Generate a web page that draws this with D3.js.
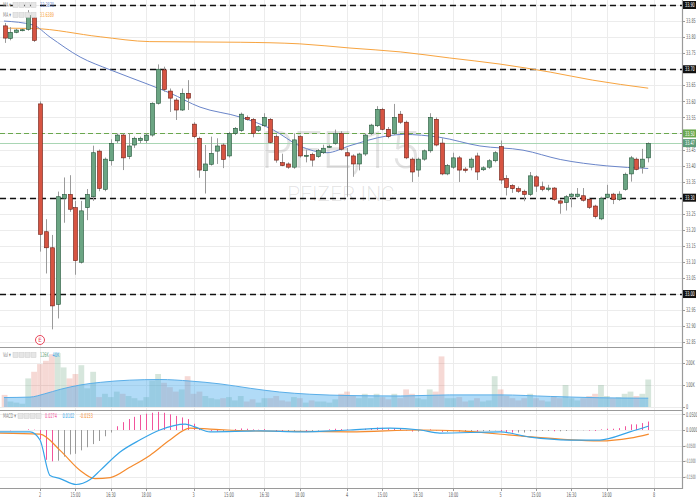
<!DOCTYPE html>
<html><head><meta charset="utf-8">
<script src="https://cdn.jsdelivr.net/npm/d3@7"></script>
<style>
html,body{margin:0;padding:0;background:#fff;}
svg{display:block;font-family:"DejaVu Sans Condensed","Liberation Sans",sans-serif;}
</style></head><body>
<svg id="c" width="697" height="498"></svg>
<script>
// ---------- DATA ----------
// bar index: day "2" starts at index 0; six bars of previous day before it
const firstIndex = -6;
const opens = [
 33.835,33.796,33.815,33.822,33.824,33.860,
 33.592,33.194,33.144,32.968,33.298,33.310,33.269,33.099,33.269,33.303,33.445,33.326,33.415,33.477,33.495,33.428,33.464,33.478,33.478,33.495,33.594,33.698,33.632,33.604,33.573,33.625,
 33.529,33.485,33.384,33.404,33.445,33.464,33.430,33.500,33.509,33.550,33.544,33.509,33.524,33.544,33.490,33.409,33.405,33.395,33.490,33.430,33.435,33.428,33.440,33.458,33.469,33.500,
 33.440,33.430,33.405,33.436,33.500,33.524,33.575,33.513,33.500,33.560,33.535,33.420,33.386,33.420,33.446,33.544,33.470,33.374,33.395,33.424,33.389,33.395,33.430,33.387,33.395,33.415,
 33.459,33.360,33.338,33.328,33.320,33.310,33.365,33.334,33.326,33.330,33.290,33.285,33.304,33.304,33.306,33.295,33.274,33.234,33.301,33.311,33.294,33.326,33.374,33.420,33.395,33.424];
const highs = [
 33.844,33.831,33.826,33.826,33.884,33.870,
 33.600,33.233,33.184,33.319,33.363,33.370,33.290,33.290,33.327,33.462,33.450,33.425,33.482,33.500,33.500,33.500,33.490,33.490,33.500,33.597,33.715,33.708,33.640,33.610,33.640,33.666,
 33.535,33.490,33.464,33.490,33.485,33.470,33.505,33.520,33.565,33.556,33.548,33.525,33.563,33.548,33.497,33.437,33.410,33.500,33.495,33.450,33.440,33.452,33.465,33.465,33.512,33.507,
 33.455,33.435,33.440,33.500,33.530,33.585,33.580,33.520,33.592,33.570,33.540,33.425,33.425,33.450,33.563,33.550,33.485,33.405,33.440,33.430,33.395,33.425,33.440,33.398,33.420,33.445,
 33.478,33.370,33.342,33.335,33.325,33.380,33.370,33.350,33.340,33.333,33.295,33.308,33.315,33.330,33.330,33.300,33.278,33.303,33.340,33.315,33.320,33.378,33.430,33.425,33.452,33.472];
const lows = [
 33.782,33.790,33.812,33.818,33.820,33.785,
 33.132,33.064,32.890,32.924,33.222,33.256,33.060,33.095,33.230,33.290,33.320,33.320,33.400,33.470,33.386,33.420,33.455,33.470,33.470,33.490,33.590,33.630,33.567,33.542,33.570,33.573,
 33.485,33.362,33.313,33.400,33.405,33.392,33.425,33.495,33.505,33.540,33.488,33.505,33.520,33.469,33.409,33.398,33.390,33.390,33.425,33.410,33.397,33.424,33.436,33.455,33.465,33.447,
 33.303,33.365,33.385,33.430,33.495,33.520,33.510,33.485,33.495,33.530,33.420,33.349,33.365,33.415,33.440,33.460,33.370,33.370,33.390,33.349,33.378,33.385,33.355,33.383,33.390,33.410,
 33.343,33.307,33.315,33.315,33.289,33.305,33.318,33.320,33.320,33.290,33.250,33.260,33.270,33.300,33.288,33.265,33.235,33.230,33.298,33.280,33.290,33.322,33.350,33.385,33.375,33.410];
const closes = [
 33.797,33.815,33.822,33.823,33.867,33.790,
 33.186,33.144,32.963,33.303,33.310,33.264,33.104,33.259,33.310,33.440,33.329,33.420,33.469,33.495,33.424,33.461,33.485,33.485,33.495,33.594,33.700,33.637,33.610,33.573,33.625,33.610,
 33.490,33.386,33.405,33.438,33.461,33.419,33.500,33.516,33.560,33.544,33.500,33.521,33.550,33.472,33.417,33.400,33.395,33.480,33.430,33.432,33.417,33.447,33.454,33.460,33.500,33.451,
 33.430,33.405,33.436,33.495,33.526,33.575,33.513,33.490,33.550,33.535,33.424,33.380,33.420,33.446,33.550,33.464,33.374,33.400,33.424,33.386,33.385,33.420,33.380,33.393,33.415,33.440,
 33.355,33.332,33.328,33.320,33.310,33.368,33.336,33.326,33.330,33.295,33.283,33.303,33.311,33.311,33.292,33.270,33.241,33.298,33.311,33.294,33.311,33.373,33.424,33.388,33.420,33.469];
// volume in thousands
const volumes = [
 55,25,20,15,130,160,
 195,210,240,245,180,130,150,190,85,160,45,60,45,70,60,50,40,30,45,120,150,110,90,70,80,140,
 60,70,50,40,35,40,45,30,50,25,35,20,40,40,50,30,25,45,40,20,30,25,25,20,35,60,
 70,50,40,60,40,60,45,35,60,40,80,60,40,35,80,70,230,40,40,45,25,30,40,25,30,140,
 80,50,40,30,40,60,40,30,25,50,40,100,40,30,40,50,60,100,50,40,45,60,70,50,60,125];
// volume moving average [barIndex, thousands]
const volMA = [[-6.1,43],[-1.7,45],[0.8,60],[3.4,80],[6.8,100],[10.2,112],[15.2,122],[20.3,125],[25.4,118],[30.5,105],[35.6,85],[40.6,68],[45.7,58],[52.5,52],[61,50],[69.4,55],[77.9,55],[86.4,48],[94.8,42],[103,40]];
// MACD histogram per bar
const macdHist = [
 0.000,-0.001,0.000,0.000,0.002,0.001,
 -0.030,-0.095,-0.100,-0.098,-0.085,-0.078,-0.076,-0.065,-0.055,-0.045,-0.035,-0.020,-0.008,0.012,0.025,0.035,0.042,0.048,0.052,0.055,0.058,0.055,0.050,0.045,0.040,0.035,
 0.020,0.005,0.000,-0.003,-0.005,-0.004,0.000,0.003,0.005,0.004,0.002,0.001,0.003,0.000,-0.004,-0.006,-0.006,-0.003,-0.002,-0.003,-0.003,-0.002,0.000,0.002,0.004,0.003,
 0.002,0.000,0.001,0.004,0.006,0.008,0.007,0.005,0.006,0.004,-0.002,-0.005,-0.005,-0.003,0.002,-0.002,-0.006,-0.006,-0.004,-0.005,-0.005,-0.004,-0.005,-0.004,-0.003,-0.001,
 -0.005,-0.007,-0.008,-0.008,-0.008,-0.004,-0.004,-0.003,-0.003,-0.004,-0.004,-0.003,-0.002,-0.001,-0.001,-0.002,-0.003,0.002,0.004,0.004,0.006,0.012,0.018,0.018,0.022,0.027];
// MACD line and signal [barIndex, value]
const macdLine = [[-6.8,-0.006],[-1.7,-0.006],[0,-0.032],[1.7,-0.145],[3.4,-0.155],[6.1,-0.174],[8.5,-0.158],[10.2,-0.129],[13.5,-0.071],[16.9,-0.032],[20.3,0],[24.6,0.019],[26.2,0.010],[28.8,-0.006],[37.3,-0.003],[44,-0.006],[52.5,0],[59.3,0.006],[64.4,0],[67.7,-0.010],[77.9,-0.006],[83,-0.023],[89.8,-0.032],[94.8,-0.032],[99.9,-0.006],[103.1,0.013]];
const macdSignal = [[-6.8,-0.010],[0,-0.013],[3.4,-0.065],[6.8,-0.129],[9.3,-0.155],[11.9,-0.152],[15.2,-0.119],[18.6,-0.081],[22,-0.032],[25.4,0.006],[28.8,0.003],[35.6,-0.003],[52.5,-0.006],[64.4,0],[71.1,-0.003],[81.3,-0.019],[88.1,-0.029],[94.8,-0.035],[99.9,-0.026],[103.1,-0.013]];
// price moving averages [barIndex, price]
const maShort = [[-6.1,33.850],[-1.2,33.838],[1.7,33.800],[6.8,33.738],[11.9,33.698],[18.6,33.651],[22,33.626],[27.1,33.582],[33.9,33.551],[39.5,33.511],[44,33.461],[48.6,33.440],[52.5,33.462],[58.7,33.492],[61.5,33.497],[67.7,33.488],[74.5,33.461],[81.8,33.448],[88.1,33.419],[96,33.399],[103,33.391]];
const maLong = [[-6.1,33.828],[-1.2,33.827],[10.2,33.801],[18.6,33.786],[33.9,33.784],[44,33.779],[52.5,33.766],[61,33.754],[69.4,33.735],[77.9,33.716],[86.4,33.691],[93.6,33.666],[103,33.641]];
// x-axis labels [barIndex, text]
const timeLabels = [[0,"2"],[6,"15:00"],[12,"16:30"],[18,"18:00"],[26,"3"],[32,"15:00"],[38,"16:30"],[44,"18:00"],[52,"4"],[58,"15:00"],[64,"16:30"],[70,"18:00"],[78,"5"],[84,"15:00"],[90,"16:30"],[96,"18:00"],[104,"8"]];
const priceTicks = [33.90,33.85,33.80,33.75,33.70,33.65,33.60,33.55,33.50,33.45,33.40,33.35,33.30,33.25,33.20,33.15,33.10,33.05,33.00,32.95,32.90,32.85];
const levelLines = [33.90,33.70,33.30,33.00];
const resistLevel = 33.50;
const lastPrice = 33.47;
const volTicks = [[0,"0"],[100,"100K"],[200,"200K"]];
const macdTicks = [0.05,0,-0.05,-0.10,-0.15];
const earningsIndex = 0;
const legendMA = ["33.3870","33.6389"];
const legendVol = ["126K","40K"];
const legendMACD = ["0.0274","0.0102","-0.0153"];

// ---------- LAYOUT ----------
const W = 697, axisX = 682;
const svg = d3.select("#c");
const x = d3.scaleLinear().domain([0,104]).range([40, 40+104*5.905]);
const y = d3.scaleLinear().domain([33.90,32.85]).range([5,342.2]);
const yv = d3.scaleLinear().domain([0,200]).range([407,363]);
const ym = d3.scaleLinear().domain([0,-0.15]).range([430,477]);
const bars = opens.map((o,i)=>({i:i+firstIndex,o,h:highs[i],l:lows[i],c:closes[i],v:volumes[i],m:macdHist[i],pm:i>0?macdHist[i-1]:0}));

const grid = "#ececec", axisCol = "#9a9a9a", txt = "#666";
// small condensed labels: squeezed horizontally with a transform
function sq(parent,xx,yy,str,anchor,fill,size,sx){
  return parent.append("text").attr("transform",`translate(${xx},${yy}) scale(${sx||0.58},1)`)
    .attr("text-anchor",anchor||"start").attr("font-size",size||6.5).attr("fill",fill||txt).text(str);
}

// grid lines
const gridG = svg.append("g");
gridG.selectAll(".vg").data(timeLabels).join("line")
  .attr("x1",d=>Math.round(x(d[0]))+0.5).attr("x2",d=>Math.round(x(d[0]))+0.5).attr("y1",0).attr("y2",488)
  .attr("stroke",grid).attr("stroke-width",1);
gridG.selectAll(".hg").data(priceTicks).join("line")
  .attr("x1",0).attr("x2",axisX).attr("y1",d=>Math.round(y(d))+0.5).attr("y2",d=>Math.round(y(d))+0.5)
  .attr("stroke",grid);
gridG.selectAll(".hv").data(volTicks).join("line")
  .attr("x1",0).attr("x2",axisX).attr("y1",d=>Math.round(yv(d[0]))+0.5).attr("y2",d=>Math.round(yv(d[0]))+0.5).attr("stroke",grid);
gridG.selectAll(".hm").data(macdTicks).join("line")
  .attr("x1",0).attr("x2",axisX).attr("y1",d=>Math.round(ym(d))+0.5).attr("y2",d=>Math.round(ym(d))+0.5).attr("stroke",grid);

// watermark
svg.append("text").attr("x",340).attr("y",168).attr("text-anchor","middle")
  .attr("font-family","Roboto, 'Open Sans', sans-serif").attr("font-weight",300)
  .attr("font-size",52).attr("fill","#000").attr("fill-opacity",0.11).text("PFE,15");
svg.append("text").attr("x",341).attr("y",201).attr("text-anchor","middle")
  .attr("font-family","Roboto, 'Open Sans', sans-serif").attr("font-weight",300)
  .attr("font-size",21).attr("fill","#000").attr("fill-opacity",0.11).text("PFIZER INC");

// level lines
svg.selectAll(".lvl").data(levelLines).join("line")
  .attr("x1",0).attr("x2",axisX).attr("y1",d=>Math.round(y(d))+0.5).attr("y2",d=>Math.round(y(d))+0.5)
  .attr("stroke","#111").attr("stroke-width",1.4).attr("stroke-dasharray","6,4");
svg.append("line").attr("x1",0).attr("x2",axisX).attr("y1",Math.round(y(resistLevel))+0.5).attr("y2",Math.round(y(resistLevel))+0.5)
  .attr("stroke","#6aa84f").attr("stroke-width",1.2).attr("stroke-dasharray","5,3");
svg.append("line").attr("x1",0).attr("x2",axisX).attr("y1",Math.round(y(lastPrice))+0.5).attr("y2",Math.round(y(lastPrice))+0.5)
  .attr("stroke","#a9d6b4").attr("stroke-width",1);

// MAs
const lineIdx = d3.line().x(d=>x(d[0])).y(d=>y(d[1])).curve(d3.curveMonotoneX);
svg.append("path").attr("d",lineIdx(maLong)).attr("fill","none").attr("stroke","#f7a440").attr("stroke-width",1);
svg.append("path").attr("d",lineIdx(maShort)).attr("fill","none").attr("stroke","#6a85c9").attr("stroke-width",1);

// candles
const green="#6ba583", greenS="#225437", red="#d75442", redS="#6b1d13";
const cg = svg.append("g");
cg.selectAll(".wick").data(bars).join("line")
  .attr("x1",d=>Math.round(x(d.i))+0.5).attr("x2",d=>Math.round(x(d.i))+0.5)
  .attr("y1",d=>y(d.h)).attr("y2",d=>y(d.l)).attr("stroke","#9a9a9a").attr("stroke-width",1);
cg.selectAll(".body").data(bars).join("rect")
  .attr("x",d=>Math.round(x(d.i))-1.5).attr("width",4)
  .attr("y",d=>y(Math.max(d.o,d.c))).attr("height",d=>Math.max(1,y(Math.min(d.o,d.c))-y(Math.max(d.o,d.c))))
  .attr("fill",d=>d.c>=d.o?green:red).attr("stroke",d=>d.c>=d.o?greenS:redS).attr("stroke-width",0.6);

// earnings marker
svg.append("circle").attr("cx",x(earningsIndex)).attr("cy",340).attr("r",4.5).attr("fill","#fff").attr("stroke","#e8455a").attr("stroke-width",1);
svg.append("text").attr("x",x(earningsIndex)).attr("y",342.3).attr("text-anchor","middle").attr("font-size",6).attr("fill","#e8455a").text("E");

// panel separators
[347.5,410.5,488.5].forEach(v=>svg.append("line").attr("x1",0).attr("x2",axisX).attr("y1",v).attr("y2",v).attr("stroke",axisCol).attr("stroke-width",1.2));

// volume
const vg = svg.append("g");
vg.selectAll("rect").data(bars).join("rect")
  .attr("x",d=>x(d.i)-2.9).attr("width",5.8)
  .attr("y",d=>yv(d.v)).attr("height",d=>yv(0)-yv(d.v))
  .attr("fill",d=>d.c>=d.o?"rgba(107,165,131,0.28)":"rgba(215,84,66,0.22)");
const areaV = d3.area().x(d=>x(d[0])).y0(yv(0)).y1(d=>yv(d[1])).curve(d3.curveMonotoneX);
vg.append("path").attr("d",areaV(volMA)).attr("fill","rgba(70,170,235,0.42)");
vg.append("path").attr("d",d3.line().x(d=>x(d[0])).y(d=>yv(d[1])).curve(d3.curveMonotoneX)(volMA)).attr("fill","none").attr("stroke","#5aaee8").attr("stroke-width",1);

// MACD
const mg = svg.append("g");
mg.selectAll("line").data(bars).join("line")
  .attr("x1",d=>Math.round(x(d.i))+0.5).attr("x2",d=>Math.round(x(d.i))+0.5)
  .attr("y1",ym(0)).attr("y2",d=>ym(d.m))
  .attr("stroke",d=>(d.m>=0 || d.m<d.pm)?"#f2549c":"#9a9a9a").attr("stroke-width",1);
const lineM = d3.line().x(d=>x(d[0])).y(d=>ym(d[1])).curve(d3.curveMonotoneX);
mg.append("path").attr("d",lineM(macdSignal)).attr("fill","none").attr("stroke","#f58b2e").attr("stroke-width",1.2);
mg.append("path").attr("d",lineM(macdLine)).attr("fill","none").attr("stroke","#36a4e8").attr("stroke-width",1.2);

// right axis
svg.append("line").attr("x1",axisX+0.5).attr("x2",axisX+0.5).attr("y1",0).attr("y2",489).attr("stroke",axisCol).attr("stroke-width",1.2);
const ax = svg.append("g");
function tick(yy,label){
  ax.append("line").attr("x1",axisX).attr("x2",axisX+3).attr("y1",Math.round(yy)+0.5).attr("y2",Math.round(yy)+0.5).attr("stroke",axisCol);
  if(label.length>=7) sq(ax,axisX+2.5,yy+2.1,label,"start",txt,6,0.48);
  else sq(ax,axisX+4,yy+2.2,label);
}
priceTicks.forEach(p=>{ if(!levelLines.includes(p) && p!==resistLevel) tick(y(p),d3.format(".2f")(p)); });
volTicks.forEach(v=>tick(yv(v[0]),v[1]));
macdTicks.forEach(m=>tick(ym(m),d3.format(".4f")(m)));
function tag(yy,label,bg){
  svg.append("rect").attr("x",axisX+1).attr("y",yy-4).attr("width",W-axisX-2).attr("height",8).attr("fill",bg);
  sq(svg,axisX+3,yy+2.2,label,"start","#fff");
}
levelLines.forEach(p=>tag(y(p),d3.format(".2f")(p),"#111"));
tag(y(resistLevel),d3.format(".2f")(resistLevel),"#6aa84f");
tag(y(lastPrice),d3.format(".2f")(lastPrice),"#5d9c79");

// bottom axis
const bx = svg.append("g");
timeLabels.forEach(t=>{
  bx.append("line").attr("x1",Math.round(x(t[0]))+0.5).attr("x2",Math.round(x(t[0]))+0.5).attr("y1",488).attr("y2",491).attr("stroke",axisCol);
  sq(bx,x(t[0]),496.5,t[1],"middle");
});

// legends
function legend(yy,name,vals,cols){
  const g = svg.append("g");
  sq(g,3,yy+2.2,name+" \u25BE","start","#888");
  let xx = name.length>3?18:13;
  for(let k=0;k<4;k++){ g.append("rect").attr("x",xx+k*6).attr("y",yy-2.5).attr("width",5).attr("height",5).attr("fill","#e6e6e6").attr("stroke","#ccc").attr("stroke-width",0.5); }
  xx += 27;
  vals.forEach((v,k)=>{ sq(g,xx,yy+2.2,v,"start",cols[k]); xx += v.length*2.4+3; });
}
legend(5,"MA",[legendMA[0]],["#6a85c9"]);
legend(15,"MA",[legendMA[1]],["#f7a440"]);
legend(355,"Vol",legendVol,["#6ba583","#36a4e8"]);
legend(416,"MACD",legendMACD,["#f2549c","#36a4e8","#f58b2e"]);
</script>
</body></html>
